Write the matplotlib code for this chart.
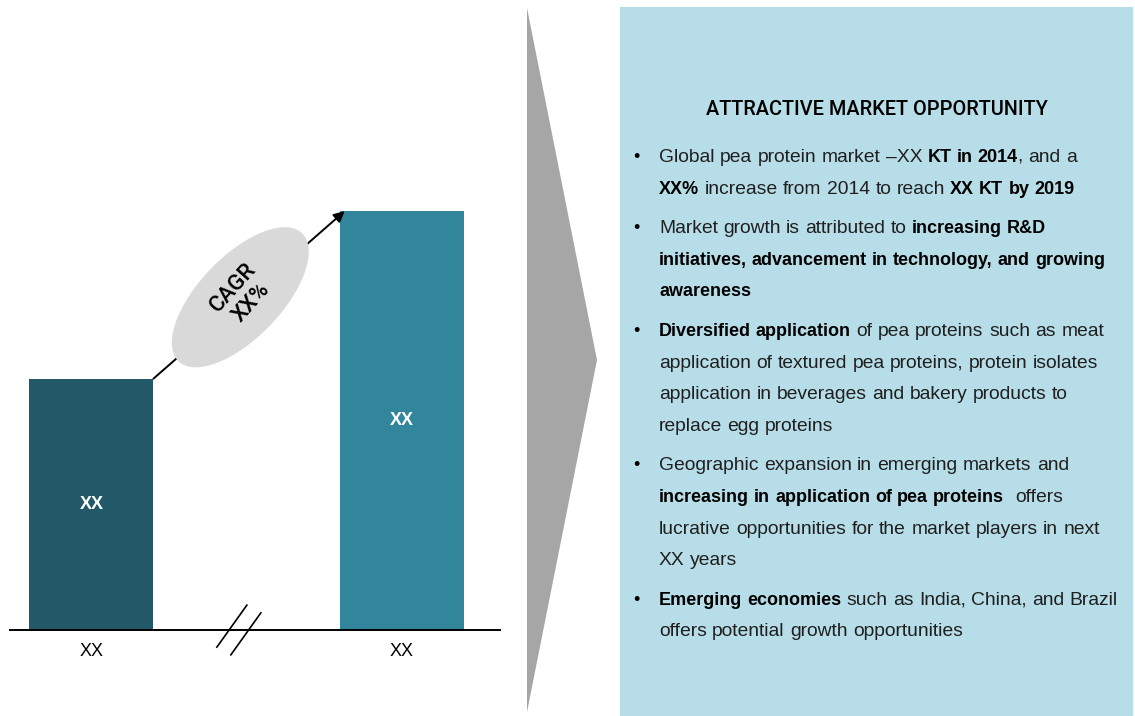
import matplotlib.pyplot as plt
import numpy as np
from matplotlib.lines import Line2D
from matplotlib.patches import Ellipse, Polygon, Rectangle
from matplotlib.transforms import IdentityTransform

# Bar data (market volume, arbitrary units)
years = ["XX", "XX"]
volumes = [60, 100]
bar_labels = ["XX", "XX"]
bar_colors = ["#225A69", "#31869B"]
cagr_text = "CAGR\nXX%"

title = "ATTRACTIVE MARKET OPPORTUNITY"
# each bullet is a list of lines, each line a list of (text, bold) runs
bullets = [
    [
        [("Global pea protein market \u2013XX ", False), ("KT in 2014", True), (", and a", False)],
        [("XX%", True), (" increase from 2014 to reach ", False), ("XX KT by 2019", True)],
    ],
    [
        [("Market growth is attributed to ", False), ("increasing R&D", True)],
        [("initiatives, advancement in technology, and growing", True)],
        [("awareness", True)],
    ],
    [
        [("Diversified application", True), (" of pea proteins such as meat", False)],
        [("application of textured pea proteins, protein isolates", False)],
        [("application in beverages and bakery products to", False)],
        [("replace egg proteins", False)],
    ],
    [
        [("Geographic expansion in emerging markets and", False)],
        [("increasing in application of pea proteins", True), ("  offers", False)],
        [("lucrative opportunities for the market players in next", False)],
        [("XX years", False)],
    ],
    [
        [("Emerging economies", True), (" such as India, China, and Brazil", False)],
        [("offers potential growth opportunities", False)],
    ],
]

W, H = 1135, 716
BODY_FONT = ["Liberation Sans", "DejaVu Sans"]
HEAD_FONT = ["Roboto", "Liberation Sans", "DejaVu Sans"]
SIZES = {"normal": 13.9, "bold": 13.0}

fig = plt.figure(figsize=(W / 100, H / 100), dpi=100)
px = IdentityTransform()

# light blue panel and grey chevron
fig.add_artist(Rectangle((620, 0), 513, H - 7, transform=px, facecolor="#B7DEE8", edgecolor="none"))
fig.add_artist(Polygon([(527, H - 8), (597, H - 360), (527, H - 712)], closed=True,
                       transform=px, facecolor="#A6A6A6", edgecolor="none"))

# bar chart
ax = fig.add_axes([10 / W, 86 / H, 490 / W, 625 / H])
x = np.arange(len(volumes))
bw = 0.4
ax.bar(x, volumes, width=bw, color=bar_colors, zorder=2)
ax.set_xlim(-0.262, 1.316)
ax.set_ylim(0, 149.2)
for xi, v, lab in zip(x, volumes, bar_labels):
    ax.text(xi, v / 2, lab, ha="center", va="center", color="white",
            fontsize=13, fontweight="bold", family=BODY_FONT)
ax.set_xticks(x, years, fontsize=13, family=BODY_FONT)
ax.tick_params(axis="x", length=0, pad=9)
ax.set_yticks([])
for s in ["top", "left", "right"]:
    ax.spines[s].set_visible(False)
ax.spines["bottom"].set_linewidth(1.4)
ax.patch.set_visible(False)

# growth arrow from first bar top to second bar top
ax.annotate("", xy=(x[1] - bw / 2 + 0.016, volumes[1]), xytext=(x[0] + bw / 2, volumes[0]),
            arrowprops=dict(arrowstyle="-|>", color="black", lw=1.4,
                            mutation_scale=16, shrinkA=0, shrinkB=0))

fig.canvas.draw()
p0 = ax.transData.transform((x[0] + bw / 2, volumes[0]))
p1 = ax.transData.transform((x[1] - bw / 2, volumes[1]))
centre = p0 + 0.45 * (p1 - p0) + np.array([3, 6])
fig.add_artist(Ellipse(centre, 178, 82, angle=46, transform=px,
                       facecolor="#D9D9D9", edgecolor="none", zorder=3))
fig.text(centre[0] + 2, centre[1] + 2, cagr_text, transform=px, rotation=48,
         rotation_mode="anchor", ha="center", va="center", fontsize=16,
         fontweight="medium", linespacing=1.15, family=HEAD_FONT, zorder=4)

# axis break marks
bx, by = ax.transData.transform((0.475, 0))
for off in (-7, 7):
    cx, cy = bx + off, by - off * 0.55
    fig.add_artist(Line2D([cx - 15, cx + 15], [cy - 21, cy + 21], transform=px,
                          color="black", lw=1.2))

# text panel
fig.text(877, H - 115, title, transform=px, ha="center", va="baseline",
         fontsize=14.3, fontweight="medium", family=HEAD_FONT, color="black")

renderer = fig.canvas.get_renderer()


def space_width(weight):
    a = fig.text(0, 0, "x x", fontsize=SIZES[weight], family=BODY_FONT, fontweight=weight, transform=px)
    b = fig.text(0, 0, "xx", fontsize=SIZES[weight], family=BODY_FONT, fontweight=weight, transform=px)
    w = a.get_window_extent(renderer).width - b.get_window_extent(renderer).width
    a.remove()
    b.remove()
    return w


spaces = {"normal": space_width("normal"), "bold": space_width("bold")}


def draw_line(xs, y, runs):
    for text, bold in runs:
        weight = "bold" if bold else "normal"
        color = "black" if bold else "#1F1F1F"
        for i, word in enumerate(text.split(" ")):
            if i > 0:
                xs += spaces[weight]
            if word:
                t = fig.text(xs, y, word, transform=px, ha="left", va="baseline",
                             fontsize=SIZES[weight], family=BODY_FONT, fontweight=weight, color=color)
                xs += t.get_window_extent(renderer).width


baseline = 162
for lines in bullets:
    fig.text(636, H - baseline, "\u2022", transform=px, ha="center", va="baseline",
             fontsize=13, family=BODY_FONT, color="black")
    for line in lines:
        draw_line(659, H - baseline, line)
        baseline += 31.6
    baseline += 8

fig.savefig("out.png", dpi=100)
